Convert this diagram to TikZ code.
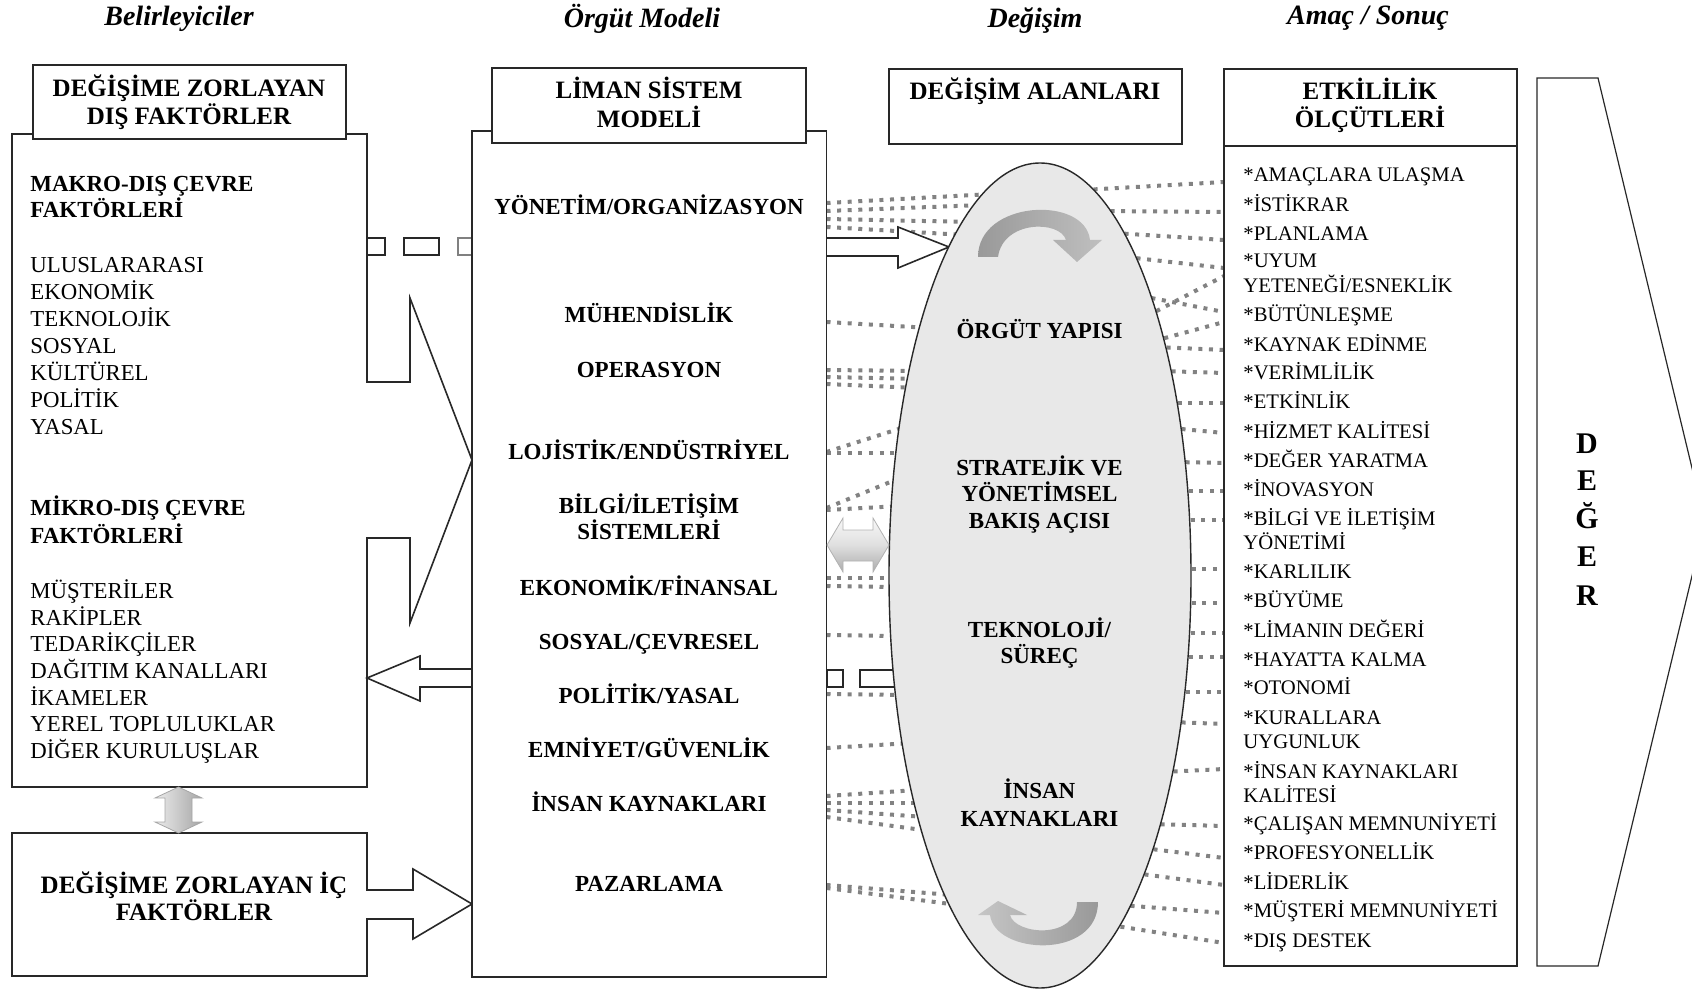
\documentclass[tikz,border=0pt]{standalone}
\usepackage{fontspec}
\setmainfont{Liberation Serif}
\usetikzlibrary{shapes.geometric}
\definecolor{dotgray}{RGB}{130,130,130}
\definecolor{ellfill}{RGB}{232,232,232}
\definecolor{lineblk}{RGB}{40,40,40}
\begin{document}
\begin{tikzpicture}[x=0.5pt,y=-0.5pt,
  box/.style={draw=lineblk, line width=0.8pt, fill=white},
  dots/.style={draw=dotgray, line width=2pt, dash pattern=on 2pt off 3.3pt},
  ttl/.style={font=\fontsize{14}{16}\selectfont\bfseries\itshape, inner sep=0pt, anchor=base},
  hdr/.style={font=\fontsize{12.5}{15}\selectfont\bfseries, inner sep=0pt, anchor=base},
  itm/.style={font=\fontsize{11.5}{13}\selectfont\bfseries, inner sep=0pt, anchor=base},
  itml/.style={font=\fontsize{11.5}{13}\selectfont\bfseries, inner sep=0pt, anchor=base west},
  lst/.style={font=\fontsize{11.4}{13}\selectfont, inner sep=0pt, anchor=base west},
  crit/.style={font=\fontsize{10.35}{12}\selectfont, inner sep=0pt, anchor=base west},
  bigl/.style={font=\fontsize{15}{17}\selectfont\bfseries, inner sep=0pt, anchor=base},
]
\useasboundingbox (0,0) rectangle (1692,989);
\clip (0,0) rectangle (1692,989);

\coordinate (lE) at (826.5,0);
\coordinate (eW) at (1224,0);

% ---------- dotted connectors, left side ----------
\foreach \ya/\xb/\yb in {203/992/194, 211/982/205, 219/972/222, 227/965/235,
  322/930/328, 370/918/371, 377/918/379, 384/918/388,
  452/908/426, 453/905/453, 508/900/478, 510/900/506,
  578/897/578, 586/897/587, 635/897/636, 694/905/695, 748/912/743,
  796/917/790, 803/923/803, 810/925/817, 817/930/831,
  885/952/895, 888/958/905}
  \draw[dots] (lE |- 0,\ya) -- (\xb,\yb);

% ---------- dotted connectors, right side ----------
\foreach \xa/\ya/\yb in {1083/190/182, 1100/211/212, 1114/233/240, 1126/257/268,
  1147/316/276, 1141/296/312, 1154/341/322, 1156/347/350,
  1161/371/373, 1167/403/403, 1171/428/433, 1175/462/463, 1178/491/491,
  1180/520/520, 1181/569/569, 1181/603/603, 1180/633/633, 1178/657/657,
  1175/692/692, 1171/722/724, 1163/772/769, 1150/824/826, 1143/848/858,
  1134/873/885, 1120/905/913, 1110/925/943}
  \draw[dots] (\xa,\ya) -- (eW |- 0,\yb);

% ---------- left column ----------
\draw[box] (12,134) -- (367,134) -- (367,382) -- (410,382) -- (410,298) -- (472,460)
  -- (410,623) -- (410,538) -- (367,538) -- (367,787) -- (12,787) -- cycle;
\draw[box] (367,238) rectangle (385,255);
\draw[box] (404,238) rectangle (439,255);
\draw[box, draw=gray] (458,238) rectangle (472,255);
\draw[box] (472,669) -- (420,669) -- (420,656) -- (367,678) -- (420,701) -- (420,687) -- (472,687);

\node[box, minimum width=156.5pt, minimum height=37pt, inner sep=0pt] (dish) at (189.5,102) {};

\draw[box] (12,833) -- (367,833) -- (367,890) -- (413,890) -- (413,869) -- (472,904)
  -- (413,939) -- (413,919) -- (367,919) -- (367,976) -- (12,976) -- cycle;

\draw[draw=gray!70, line width=0.4pt, left color=gray!15, right color=gray!70]
  (178.5,787) -- (202,798) -- (192,798) -- (192,822) -- (202,822) -- (178.5,833)
  -- (155,822) -- (165,822) -- (165,798) -- (155,798) -- cycle;

% ---------- port system model ----------
\node[box, minimum width=177.25pt, minimum height=423pt, inner sep=0pt] (liman) at (649.25,554) {};
\node[box, minimum width=157pt, minimum height=37.5pt, inner sep=0pt] (limanh) at (649,105.5) {};

\draw[box] (827,238) -- (898,238) -- (898,227) -- (949,247) -- (898,268) -- (898,256) -- (827,256);
\draw[box] (827,670) rectangle (843,687);
\draw[box] (860,670) rectangle (905,687);

% ---------- change areas ----------
\node[ellipse, draw=lineblk, line width=0.7pt, fill=ellfill, minimum width=151pt,
  minimum height=412.5pt, inner sep=0pt] (ell) at (1040,575.5) {};

\draw[draw=gray!60, line width=0.4pt, top color=gray!5, bottom color=gray!65, middle color=gray!25]
  (827,545) -- (843,518) -- (843,530) -- (873,530) -- (873,518) -- (889,545)
  -- (873,572) -- (873,561) -- (843,561) -- (843,572) -- cycle;

\shade[left color=gray!80, right color=gray!50]
  (978,257) .. controls (978,200) and (1085,195) .. (1090,240) -- (1102,240) -- (1077,262)
  -- (1053,240) -- (1066,240) .. controls (1060,220) and (1003,220) .. (998,257) -- cycle;
\shade[left color=gray!45, right color=gray!80]
  (1098,902) .. controls (1098,960) and (995,955) .. (990,915) -- (978,915) -- (998,901)
  -- (1027,915) -- (1010,915) .. controls (1015,935) and (1077,940) .. (1077,902) -- cycle;

\node[box, minimum width=146.5pt, minimum height=37.5pt, inner sep=0pt] (alanh) at (1035.5,106.5) {};

% ---------- effectiveness criteria ----------
\node[box, minimum width=146.5pt, minimum height=448.5pt, inner sep=0pt] (etk) at (1370.5,517.5) {};
\draw[lineblk, line width=0.8pt] (etk.west |- 0,146) -- (etk.east |- 0,146);

% ---------- value arrow ----------
\draw[box, line width=0.6pt] (1537,78) -- (1598,78) -- (1705,522) -- (1598,966) -- (1537,966) -- cycle;

% ---------- titles ----------
\node[ttl] (t1) at (179,26) {Belirleyiciler};
\node[ttl] (t2) at (642,28) {Örgüt Modeli};
\node[ttl] (t3) at (1035,28) {Değişim};
\node[ttl] (t4) at (1368,25) {Amaç / Sonuç};

% ---------- headers ----------
\node[hdr] (dh1) at (189,97) {DEĞİŞİME ZORLAYAN};
\node[hdr] (dh2) at (189,125) {DIŞ FAKTÖRLER};
\node[hdr] (lh1) at (649,99) {LİMAN SİSTEM};
\node[hdr] (lh2) at (649,128) {MODELİ};
\node[hdr] (ah1) at (1035,100) {DEĞİŞİM ALANLARI};
\node[hdr] (eh1) at (1370,100) {ETKİLİLİK};
\node[hdr] (eh2) at (1370,128) {ÖLÇÜTLERİ};
\node[hdr] (ih1) at (194,893) {DEĞİŞİME ZORLAYAN İÇ};
\node[hdr] (ih2) at (194,920) {FAKTÖRLER};

% ---------- left box text ----------
\node[itml] (mak1) at (30,192) {MAKRO-DIŞ ÇEVRE};
\node[itml] (mak2) at (30,218) {FAKTÖRLERİ};
\node[lst] (ma1) at (30,273) {ULUSLARARASI};
\node[lst] (ma2) at (30,300) {EKONOMİK};
\node[lst] (ma3) at (30,327) {TEKNOLOJİK};
\node[lst] (ma4) at (30,354) {SOSYAL};
\node[lst] (ma5) at (30,381) {KÜLTÜREL};
\node[lst] (ma6) at (30,408) {POLİTİK};
\node[lst] (ma7) at (30,435) {YASAL};
\node[itml] (mik1) at (30,516) {MİKRO-DIŞ ÇEVRE};
\node[itml] (mik2) at (30,543) {FAKTÖRLERİ};
\node[lst] (mi1) at (30,598) {MÜŞTERİLER};
\node[lst] (mi2) at (30,625) {RAKİPLER};
\node[lst] (mi3) at (30,651) {TEDARİKÇİLER};
\node[lst] (mi4) at (30,678) {DAĞITIM KANALLARI};
\node[lst] (mi5) at (30,705) {İKAMELER};
\node[lst] (mi6) at (30,731) {YEREL TOPLULUKLAR};
\node[lst] (mi7) at (30,758) {DİĞER KURULUŞLAR};

% ---------- port model items ----------
\node[itm] (p1) at (649,215) {YÖNETİM/ORGANİZASYON};
\node[itm] (p2) at (649,323) {MÜHENDİSLİK};
\node[itm] (p3) at (649,378) {OPERASYON};
\node[itm] (p4) at (649,459) {LOJİSTİK/ENDÜSTRİYEL};
\node[itm] (p5a) at (649,513) {BİLGİ/İLETİŞİM};
\node[itm] (p5b) at (649,539) {SİSTEMLERİ};
\node[itm] (p6) at (649,595) {EKONOMİK/FİNANSAL};
\node[itm] (p7) at (649,649) {SOSYAL/ÇEVRESEL};
\node[itm] (p8) at (649,703) {POLİTİK/YASAL};
\node[itm] (p9) at (649,757) {EMNİYET/GÜVENLİK};
\node[itm] (p10) at (649,811) {İNSAN KAYNAKLARI};
\node[itm] (p11) at (649,891) {PAZARLAMA};

% ---------- change area items ----------
\node[itm] (c1) at (1039.5,339) {ÖRGÜT YAPISI};
\node[itm] (c2a) at (1039.5,475) {STRATEJİK VE};
\node[itm] (c2b) at (1039.5,502) {YÖNETİMSEL};
\node[itm] (c2c) at (1039.5,528) {BAKIŞ AÇISI};
\node[itm] (c3a) at (1039.5,637) {TEKNOLOJİ/};
\node[itm] (c3b) at (1039.5,663) {SÜREÇ};
\node[itm] (c4a) at (1039.5,798) {İNSAN};
\node[itm] (c4b) at (1039.5,826) {KAYNAKLARI};

% ---------- criteria ----------
\node[crit] (k1) at (1243,182) {*AMAÇLARA ULAŞMA};
\node[crit] (k2) at (1243,212) {*İSTİKRAR};
\node[crit] (k3) at (1243,241) {*PLANLAMA};
\node[crit] (k4a) at (1243,268) {*UYUM};
\node[crit] (k4b) at (1243,293) {YETENEĞİ/ESNEKLİK};
\node[crit] (k5) at (1243,322) {*BÜTÜNLEŞME};
\node[crit] (k6) at (1243,352) {*KAYNAK EDİNME};
\node[crit] (k7) at (1243,380) {*VERİMLİLİK};
\node[crit] (k8) at (1243,409) {*ETKİNLİK};
\node[crit] (k9) at (1243,438) {*HİZMET KALİTESİ};
\node[crit] (k10) at (1243,467) {*DEĞER YARATMA};
\node[crit] (k11) at (1243,496) {*İNOVASYON};
\node[crit] (k12a) at (1243,525) {*BİLGİ VE İLETİŞİM};
\node[crit] (k12b) at (1243,549) {YÖNETİMİ};
\node[crit] (k13) at (1243,578) {*KARLILIK};
\node[crit] (k14) at (1243,607) {*BÜYÜME};
\node[crit] (k15) at (1243,637) {*LİMANIN DEĞERİ};
\node[crit] (k16) at (1243,666) {*HAYATTA KALMA};
\node[crit] (k17) at (1243,694) {*OTONOMİ};
\node[crit] (k18a) at (1243,724) {*KURALLARA};
\node[crit] (k18b) at (1243,748) {UYGUNLUK};
\node[crit] (k19a) at (1243,778) {*İNSAN KAYNAKLARI};
\node[crit] (k19b) at (1243,802) {KALİTESİ};
\node[crit] (k20) at (1243,830) {*ÇALIŞAN MEMNUNİYETİ};
\node[crit] (k21) at (1243,859) {*PROFESYONELLİK};
\node[crit] (k22) at (1243,889) {*LİDERLİK};
\node[crit] (k23) at (1243,917) {*MÜŞTERİ MEMNUNİYETİ};
\node[crit] (k24) at (1243,947) {*DIŞ DESTEK};

% ---------- value ----------
\node[bigl] (v1) at (1587,453) {D};
\node[bigl] (v2) at (1587,491) {E};
\node[bigl] (v3) at (1587,529) {Ğ};
\node[bigl] (v4) at (1587,567) {E};
\node[bigl] (v5) at (1587,605) {R};
\end{tikzpicture}
\end{document}
